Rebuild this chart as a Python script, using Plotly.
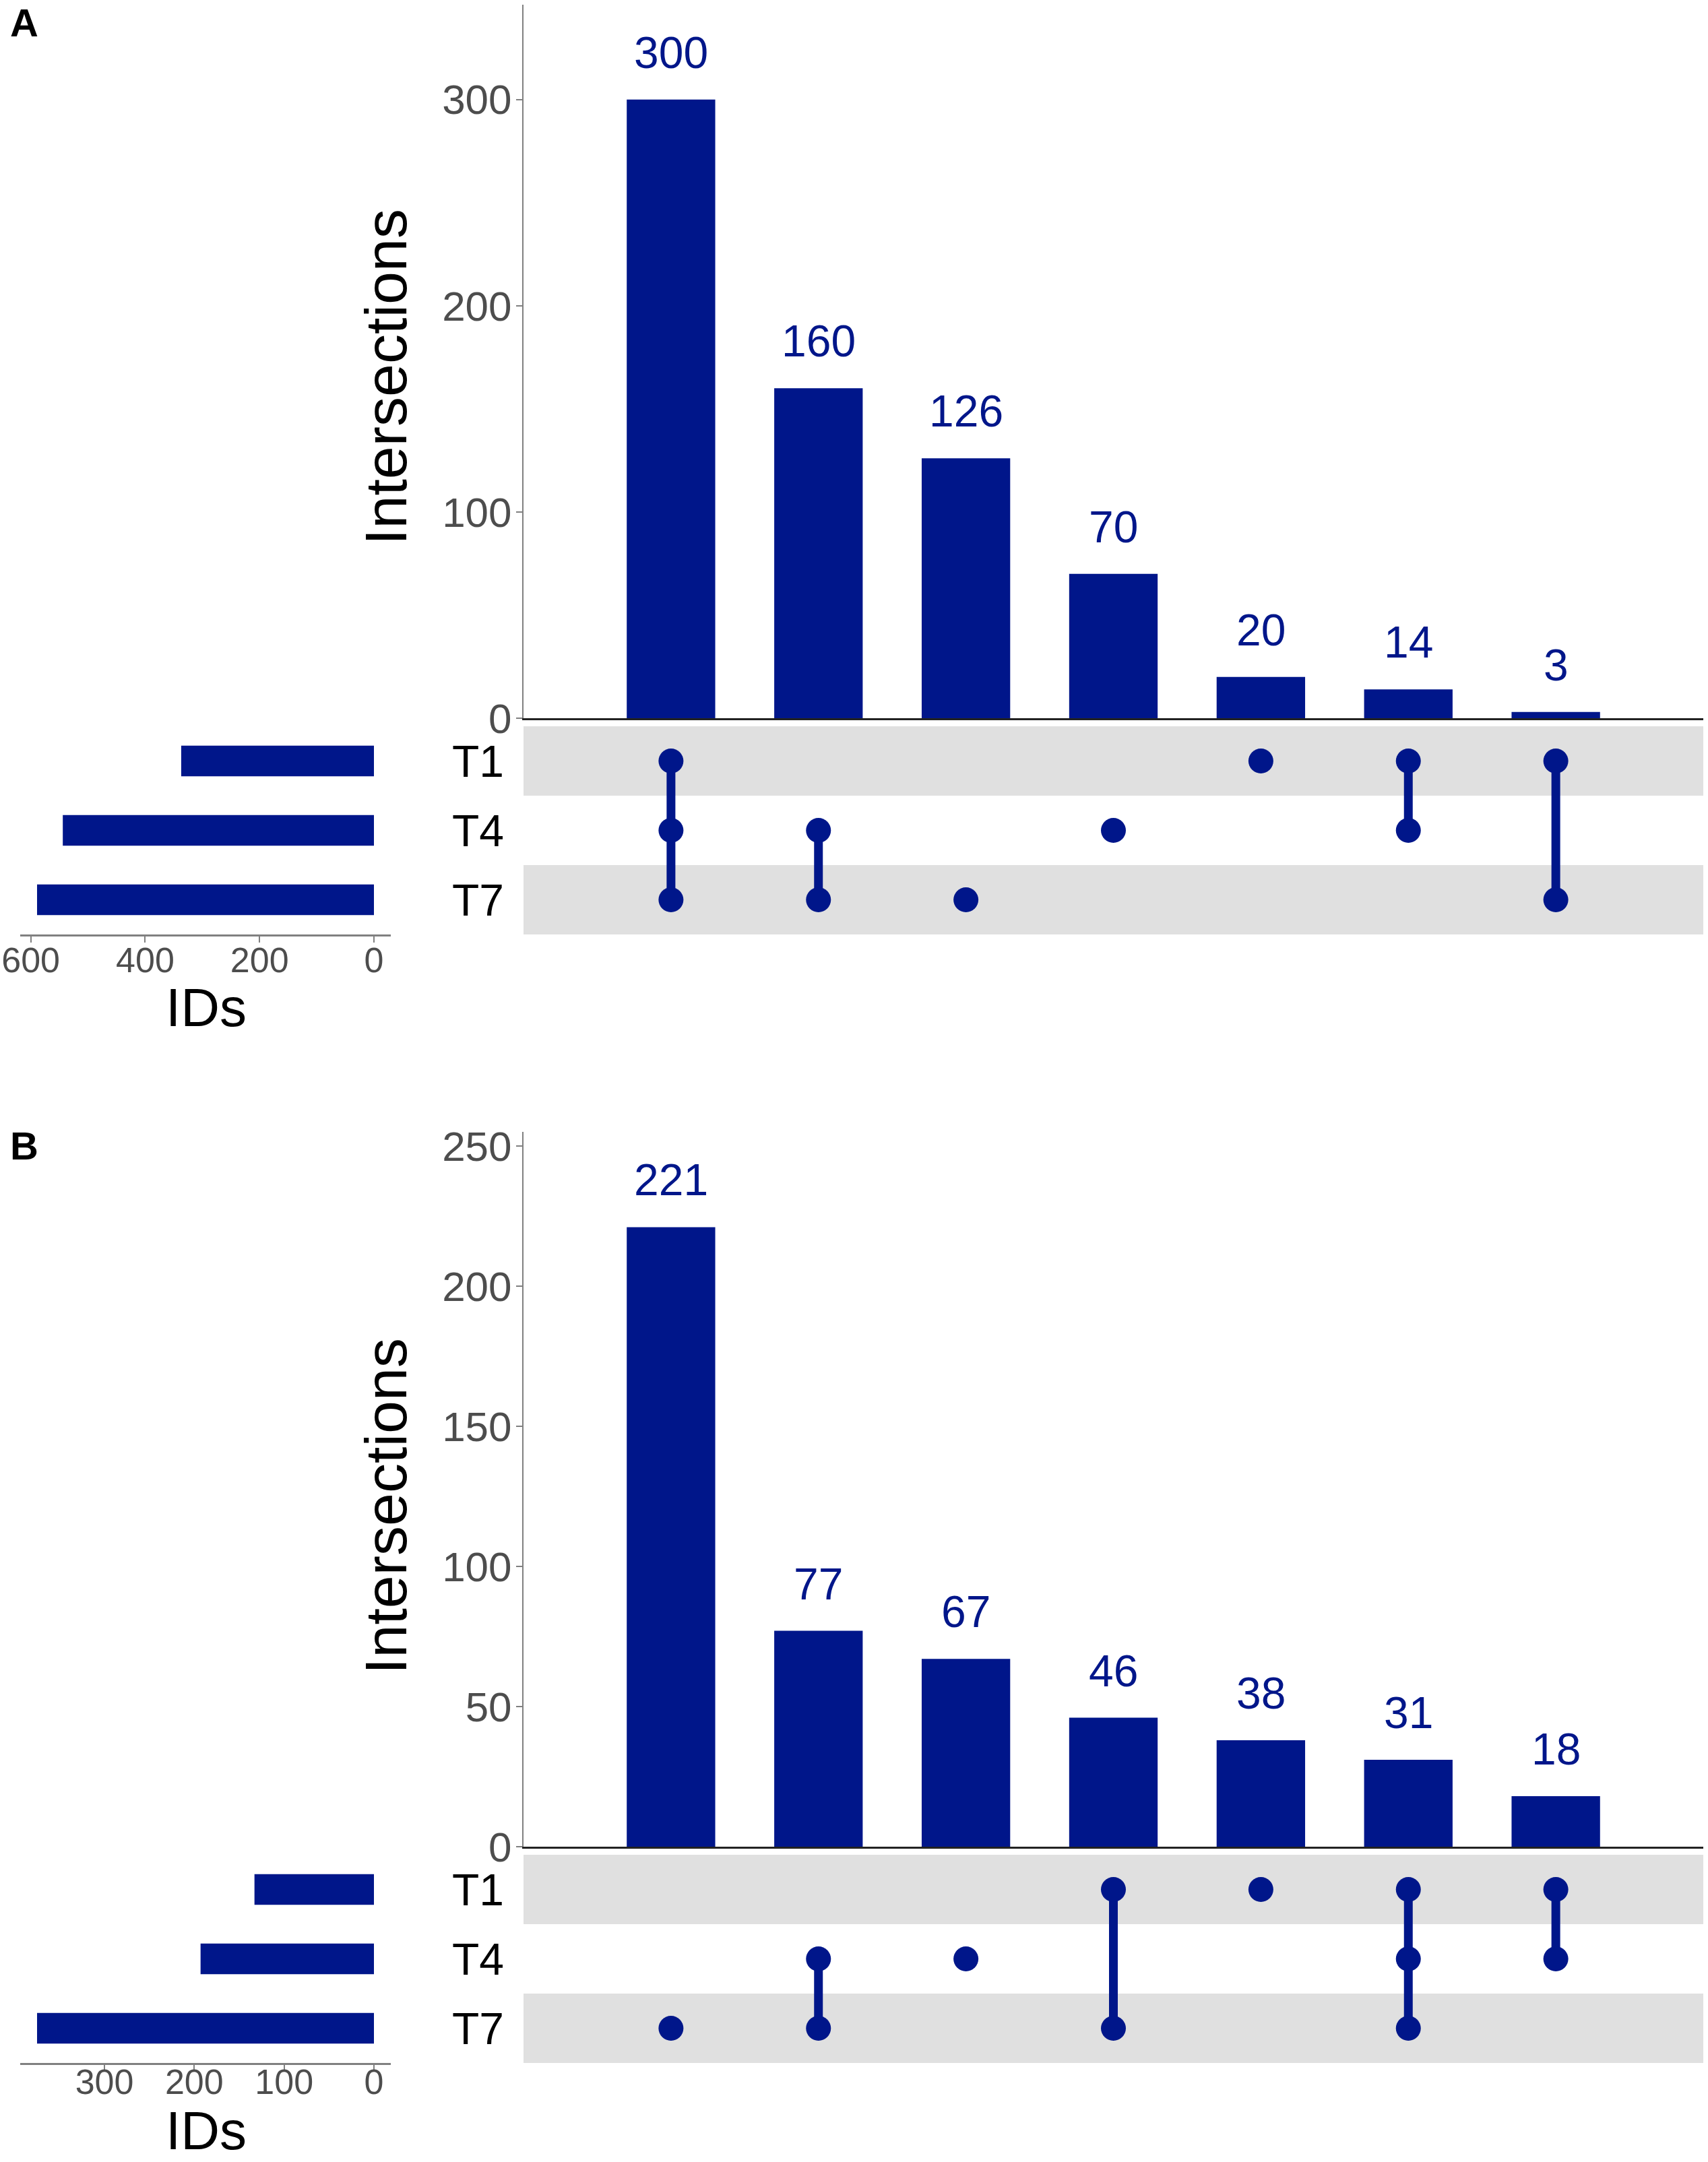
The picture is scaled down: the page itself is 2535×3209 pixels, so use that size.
import plotly.graph_objects as go

# ---------------- data ----------------
SETS = ["T1", "T4", "T7"]

A_counts = [300, 160, 126, 70, 20, 14, 3]
A_members = [["T1", "T4", "T7"], ["T4", "T7"], ["T7"], ["T4"], ["T1"], ["T1", "T4"], ["T1", "T7"]]
A_set_sizes = [337, 544, 589]
A_bar_ticks = [0, 100, 200, 300]
A_size_ticks = [0, 200, 400, 600]

B_counts = [221, 77, 67, 46, 38, 31, 18]
B_members = [["T7"], ["T4", "T7"], ["T4"], ["T1", "T7"], ["T1"], ["T1", "T4", "T7"], ["T1", "T4"]]
B_set_sizes = [133, 193, 375]
B_bar_ticks = [0, 50, 100, 150, 200, 250]
B_size_ticks = [0, 100, 200, 300]

# ---------------- style ----------------
COLOR = "#00168A"
BAND = "#E0E0E0"
TICKC = "#4D4D4D"
AXC = "#808080"
FONT = "Liberation Sans"

W_FIG = 2535
H_FIG = 3209


def fx(px):
    return min(1.0, max(0.0, px / W_FIG))


def fy(py):
    return min(1.0, max(0.0, 1 - py / H_FIG))


panels = [
    dict(label="A", counts=A_counts, members=A_members, sizes=A_set_sizes,
         bar_ticks=A_bar_ticks, size_ticks=A_size_ticks,
         top=7, zero=1066, mat_top=1078, mat_bot=1387, bar_max=346,
         label_y=34, title_y=560, ids_y=1495, size_standoff=-18),
    dict(label="B", counts=B_counts, members=B_members, sizes=B_set_sizes,
         bar_ticks=B_bar_ticks, size_ticks=B_size_ticks,
         top=1680, zero=2741, mat_top=2753, mat_bot=3062, bar_max=255,
         label_y=1700, title_y=2236, ids_y=3162, size_standoff=-28),
]

PLOT_L, PLOT_R = 777, 2528
SIZE_L, SIZE_R = 30, 580

fig = go.Figure()
layout = dict(
    template="none",
    width=W_FIG, height=H_FIG, autosize=False,
    margin=dict(l=0, r=0, t=0, b=0, pad=0),
    paper_bgcolor="white", plot_bgcolor="rgba(0,0,0,0)",
    showlegend=False,
    font=dict(family=FONT, color="black"),
)
annotations = []
shapes = []


def ax_name(kind, n):
    return kind + "axis" + ("" if n == 1 else str(n))


def ref(kind, n):
    return kind + ("" if n == 1 else str(n))


for p, P in enumerate(panels):
    nb, nm, ns = 3 * p + 1, 3 * p + 2, 3 * p + 3
    ncat = len(P["counts"])
    cats = list(range(ncat))
    rows = list(range(len(SETS)))

    # ---- intersection bars ----
    fig.add_trace(go.Bar(x=cats, y=P["counts"], width=0.6, marker_color=COLOR,
                         marker_line_width=0, xaxis=ref("x", nb), yaxis=ref("y", nb),
                         hoverinfo="skip"))
    layout[ax_name("x", nb)] = dict(
        domain=[fx(PLOT_L), fx(PLOT_R)], range=[-1, ncat], anchor=ref("y", nb),
        automargin=False, showticklabels=False, ticks="", showgrid=False, zeroline=False,
        showline=True, linecolor="#222222", linewidth=3)
    layout[ax_name("y", nb)] = dict(
        domain=[fy(P["zero"]), fy(P["top"])], range=[0, P["bar_max"]], anchor=ref("x", nb),
        automargin=False, tickvals=P["bar_ticks"], ticks="outside", ticklen=9, tickwidth=2,
        tickcolor=AXC, tickfont=dict(size=62, color=TICKC, family=FONT), ticklabelstandoff=-6,
        showgrid=False, zeroline=False, showline=True, linecolor=AXC, linewidth=2)
    for i, v in enumerate(P["counts"]):
        annotations.append(dict(x=i, y=v, xref=ref("x", nb), yref=ref("y", nb), text=str(v),
                                showarrow=False, yanchor="middle", xanchor="center", yshift=70,
                                font=dict(size=66, color=COLOR, family=FONT)))

    # ---- matrix ----
    layout[ax_name("x", nm)] = dict(domain=[fx(PLOT_L), fx(PLOT_R)], range=[-1, ncat],
                                    anchor=ref("y", nm), visible=False, automargin=False)
    layout[ax_name("y", nm)] = dict(domain=[fy(P["mat_bot"]), fy(P["mat_top"])],
                                    range=[len(SETS) - 0.5, -0.5], anchor=ref("x", nm),
                                    visible=False, automargin=False)
    for r in rows:
        if r % 2 == 0:
            shapes.append(dict(type="rect", xref=ref("x", nm) + " domain", yref=ref("y", nm),
                               x0=0, x1=1, y0=r - 0.5, y1=r + 0.5, fillcolor=BAND,
                               line=dict(width=0), layer="below"))
    for i, mem in enumerate(P["members"]):
        ys = sorted(SETS.index(s) for s in mem)
        fig.add_trace(go.Scatter(x=[i] * len(ys), y=ys, mode="lines+markers",
                                 line=dict(color=COLOR, width=13),
                                 marker=dict(color=COLOR, size=37, line=dict(width=0)),
                                 xaxis=ref("x", nm), yaxis=ref("y", nm), hoverinfo="skip"))
    for r, s in enumerate(SETS):
        annotations.append(dict(x=fx(750), y=r, xref="paper", yref=ref("y", nm), text=s,
                                showarrow=False, xanchor="right", yanchor="middle",
                                font=dict(size=66, color="black", family=FONT)))

    # ---- set sizes ----
    smax = max(P["sizes"])
    fig.add_trace(go.Bar(x=P["sizes"], y=rows, orientation="h", width=0.44,
                         marker_color=COLOR, marker_line_width=0,
                         xaxis=ref("x", ns), yaxis=ref("y", ns), hoverinfo="skip"))
    layout[ax_name("x", ns)] = dict(
        domain=[fx(SIZE_L), fx(SIZE_R)], range=[smax * 1.05, -smax * 0.05], anchor=ref("y", ns),
        automargin=False, ticklabeloverflow="allow", ticklabelstandoff=P["size_standoff"],
        tickvals=P["size_ticks"], ticks="outside", ticklen=9, tickwidth=2, tickcolor=AXC,
        tickfont=dict(size=52, color=TICKC, family=FONT),
        showgrid=False, zeroline=False, showline=True, linecolor=AXC, linewidth=3)
    layout[ax_name("y", ns)] = dict(domain=[fy(P["mat_bot"]), fy(P["mat_top"])],
                                    range=[len(SETS) - 0.5, -0.5], anchor=ref("x", ns),
                                    visible=False, automargin=False)

    # ---- titles ----
    annotations.append(dict(x=fx(36), y=fy(P["label_y"]), xref="paper", yref="paper",
                            text="<b>%s</b>" % P["label"], showarrow=False,
                            xanchor="center", yanchor="middle",
                            font=dict(size=58, color="black", family=FONT)))
    annotations.append(dict(x=fx(572), y=fy(P["title_y"]), xref="paper", yref="paper",
                            text="Intersections", textangle=-90, showarrow=False,
                            xanchor="center", yanchor="middle",
                            font=dict(size=88, color="black", family=FONT)))
    annotations.append(dict(x=fx(306), y=fy(P["ids_y"]), xref="paper", yref="paper",
                            text="IDs", showarrow=False, xanchor="center", yanchor="middle",
                            font=dict(size=80, color="black", family=FONT)))

layout["annotations"] = annotations
layout["shapes"] = shapes
fig.update_layout(**layout)
fig.write_html(
    "out.html",
    config={"displayModeBar": False},
    post_script="document.body.style.margin='0';document.body.style.overflow='hidden';"
                "document.documentElement.style.overflow='hidden';",
)
